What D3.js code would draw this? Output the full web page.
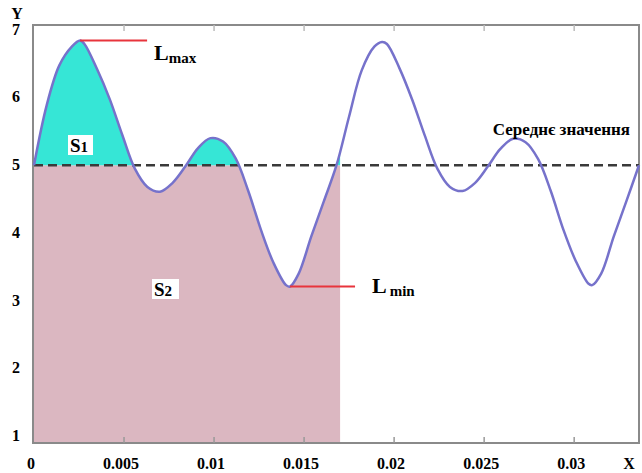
<!DOCTYPE html>
<html>
<head>
<meta charset="utf-8">
<script src="https://cdn.jsdelivr.net/npm/d3@7"></script>
<style>
  body { margin: 0; background: #fff; }
  svg text { font-family: "Liberation Serif", "Times New Roman", serif; font-weight: 700; }
</style>
</head>
<body>
<div id="chart"></div>
<script>
// values
const xValues = [0, 0.0007, 0.0014, 0.0021, 0.00256, 0.0028, 0.0035, 0.0042, 0.0049, 0.0056, 0.0063, 0.007,
  0.0077, 0.0084, 0.0091, 0.0098, 0.0105, 0.0112, 0.0119, 0.0126, 0.0133, 0.014, 0.01422, 0.0147, 0.0154,
  0.0161, 0.0168, 0.0175, 0.0182, 0.0189, 0.01933, 0.0196, 0.0203, 0.021, 0.0217, 0.0224, 0.0231, 0.0238,
  0.0245, 0.0252, 0.0259, 0.0266, 0.0273, 0.028, 0.0287, 0.0294, 0.0301, 0.0308, 0.031, 0.0315, 0.0322,
  0.0329, 0.0336];
const yValues = [5.00, 5.88, 6.47, 6.75, 6.84, 6.79, 6.42, 5.98, 5.45, 4.95, 4.68, 4.61,
  4.74, 4.98, 5.25, 5.40, 5.35, 5.10, 4.62, 4.05, 3.56, 3.23, 3.21, 3.40, 3.95,
  4.47, 5.00, 5.72, 6.40, 6.75, 6.82, 6.79, 6.43, 5.97, 5.44, 4.95, 4.68, 4.62,
  4.74, 4.98, 5.24, 5.39, 5.34, 5.09, 4.62, 4.05, 3.58, 3.25, 3.23, 3.40, 3.95,
  4.47, 5.00];
const xTicks = [0, 0.005, 0.01, 0.015, 0.02, 0.025, 0.03];
const xTickLabels = ["0", "0.005", "0.01", "0.015", "0.02", "0.025", "0.03"];
const yTicks = [1, 2, 3, 4, 5, 6, 7];
const meanValue = 5;
const fillEnd = 0.017;          // shaded part ends here
const maxPoint = [0.00256, 6.84];
const minPoint = [0.01422, 3.21];
const meanLabel = "Середнє значення";

const w = 642, h = 473;
const points = xValues.map((x, i) => [x, yValues[i]]);

const svg = d3.select("#chart").append("svg")
  .attr("width", w)
  .attr("height", h);

const x = d3.scaleLinear().domain([0, 0.0336]).range([34, 639]);
const y = d3.scaleLinear().domain([0.9, 7.07]).range([443, 25]);

//clip areas: above / below the mean line, left of fillEnd
const defs = svg.append("defs");
defs.append("clipPath").attr("id", "above")
  .append("rect")
  .attr("x", x(0)).attr("y", y(7.07))
  .attr("width", x(fillEnd) - x(0))
  .attr("height", y(meanValue) - y(7.07));
defs.append("clipPath").attr("id", "below")
  .append("rect")
  .attr("x", x(0)).attr("y", y(meanValue))
  .attr("width", x(fillEnd) - x(0))
  .attr("height", y(0.9) - y(meanValue));

const area = d3.area()
  .x(d => x(d[0]))
  .y0(y(0.9))
  .y1(d => y(d[1]))
  .curve(d3.curveCatmullRom.alpha(0.5));

svg.append("path")            // S2
  .datum(points)
  .attr("d", area)
  .attr("clip-path", "url(#below)")
  .style("fill", "#dbb7c1");

svg.append("path")            // S1
  .datum(points)
  .attr("d", area)
  .attr("clip-path", "url(#above)")
  .style("fill", "#36e6d6");

//frame
svg.append("rect")
  .attr("x", x(0) - 1).attr("y", y(7.07))
  .attr("width", x(0.0336) - x(0) + 1)
  .attr("height", y(0.9) - y(7.07))
  .style("fill", "none")
  .style("stroke", "#8a8a8a")
  .style("stroke-width", 2);

//tick marks inside the frame
svg.append("g").selectAll("line")
  .data(xTicks.slice(1))
  .enter().append("line")
  .attr("x1", d => x(d)).attr("x2", d => x(d))
  .attr("y1", y(0.9)).attr("y2", y(0.9) - 6)
  .style("stroke", "#999").style("stroke-width", 1.5);
svg.append("g").selectAll("line")
  .data(xTicks.slice(1))
  .enter().append("line")
  .attr("x1", d => x(d)).attr("x2", d => x(d))
  .attr("y1", y(7.07)).attr("y2", y(7.07) + 6)
  .style("stroke", "#bbb").style("stroke-width", 1.5);

//mean line
svg.append("line")
  .attr("x1", x(0)).attr("x2", x(0.0336))
  .attr("y1", y(meanValue)).attr("y2", y(meanValue))
  .style("stroke", "#3a3a3a")
  .style("stroke-width", 2.5)
  .style("stroke-dasharray", "9,5");

//curve
const line = d3.line()
  .x(d => x(d[0]))
  .y(d => y(d[1]))
  .curve(d3.curveCatmullRom.alpha(0.5));
svg.append("path")
  .datum(points)
  .attr("d", line)
  .style("fill", "none")
  .style("stroke", "#7672cb")
  .style("stroke-width", 2.5);

//Lmax / Lmin markers
svg.append("line")
  .attr("x1", x(maxPoint[0])).attr("x2", x(maxPoint[0]) + 67)
  .attr("y1", y(maxPoint[1])).attr("y2", y(maxPoint[1]))
  .style("stroke", "#e8343c").style("stroke-width", 2);
svg.append("line")
  .attr("x1", x(minPoint[0])).attr("x2", x(minPoint[0]) + 65)
  .attr("y1", y(minPoint[1])).attr("y2", y(minPoint[1]))
  .style("stroke", "#e8343c").style("stroke-width", 2);

const lmax = svg.append("text").attr("x", 154).attr("y", 60).style("font-size", "22px");
lmax.append("tspan").text("L");
lmax.append("tspan").attr("dy", 3).style("font-size", "15px").text("max");

const lmin = svg.append("text").attr("x", 372).attr("y", 293).style("font-size", "22px");
lmin.append("tspan").text("L");
lmin.append("tspan").attr("dx", 3).attr("dy", 3).style("font-size", "15px").text("min");

//S1 / S2 labels with white boxes
svg.append("rect").attr("x", 68).attr("y", 135).attr("width", 25).attr("height", 20).style("fill", "#fff");
const s1 = svg.append("text").attr("x", 70).attr("y", 152).style("font-size", "19px");
s1.append("tspan").text("S");
s1.append("tspan").style("font-size", "15px").text("1");

svg.append("rect").attr("x", 152).attr("y", 279).attr("width", 27).attr("height", 20).style("fill", "#fff");
const s2 = svg.append("text").attr("x", 154).attr("y", 296).style("font-size", "19px");
s2.append("tspan").text("S");
s2.append("tspan").style("font-size", "15px").text("2");

svg.append("text")
  .attr("x", 630).attr("y", 135)
  .attr("text-anchor", "end")
  .style("font-size", "17px")
  .text(meanLabel);

//tick labels
svg.append("g").selectAll("text")
  .data(yTicks)
  .enter().append("text")
  .attr("x", 16).attr("y", d => y(d) + 5)
  .attr("text-anchor", "middle")
  .style("font-size", "16px")
  .text(d => d);

svg.append("g").selectAll("text")
  .data(xTicks)
  .enter().append("text")
  .attr("x", d => x(d) - 3).attr("y", 469)
  .attr("text-anchor", "middle")
  .style("font-size", "16px")
  .text((d, i) => xTickLabels[i]);

svg.append("text").attr("x", 17).attr("y", 19).attr("text-anchor", "middle").style("font-size", "16px").text("Y");
svg.append("text").attr("x", 629).attr("y", 469).attr("text-anchor", "middle").style("font-size", "16px").text("X");
</script>
</body>
</html>
